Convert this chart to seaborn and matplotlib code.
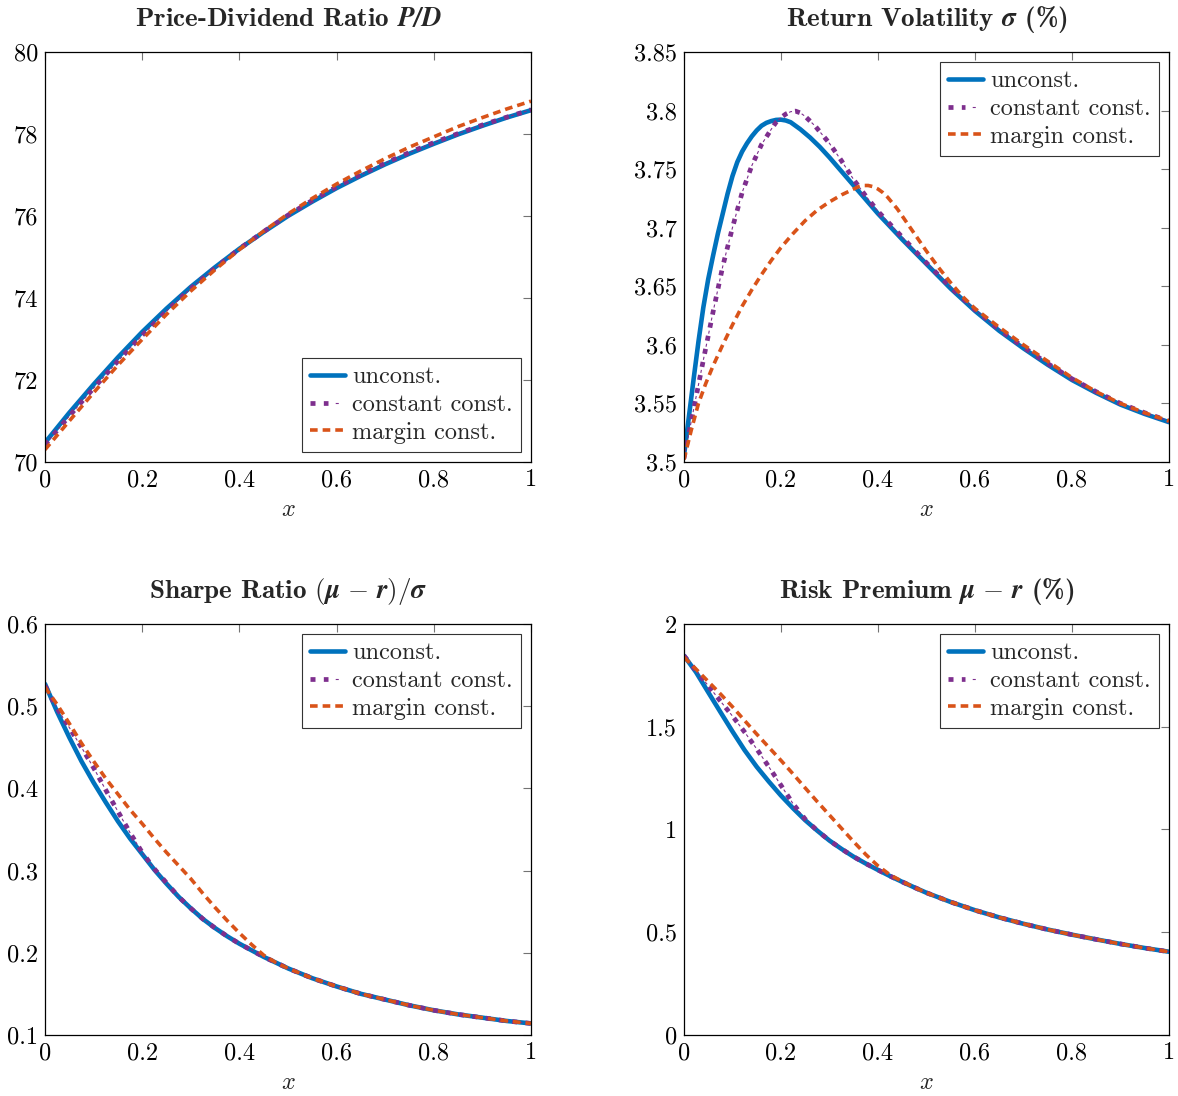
import matplotlib
matplotlib.use("Agg")
import matplotlib.pyplot as plt
import seaborn as sns
from matplotlib.lines import Line2D
from matplotlib.legend_handler import HandlerTuple
from matplotlib.ticker import FuncFormatter

# ---- data ----
# Price-Dividend ratio
pd_x = [0, 0.05, 0.1, 0.15, 0.2, 0.25, 0.3, 0.35, 0.4, 0.45, 0.5,
        0.55, 0.6, 0.65, 0.7, 0.75, 0.8, 0.85, 0.9, 0.95, 1.0]
pd_unconst = [70.47, 71.20, 71.89, 72.55, 73.17, 73.74, 74.27, 74.75, 75.20, 75.61, 76.00,
              76.35, 76.68, 76.98, 77.26, 77.52, 77.76, 77.99, 78.20, 78.40, 78.58]
pd_constant = [70.42, 71.12, 71.80, 72.46, 73.09, 73.68, 74.23, 74.73, 75.20, 75.62, 76.02,
               76.38, 76.71, 77.01, 77.29, 77.55, 77.79, 78.01, 78.22, 78.41, 78.59]
pd_margin = [70.30, 71.00, 71.69, 72.36, 72.99, 73.60, 74.17, 74.69, 75.18, 75.63, 76.05,
             76.43, 76.78, 77.10, 77.40, 77.68, 77.93, 78.18, 78.40, 78.61, 78.80]

# Return volatility (%)
vol_x_unconst = [0, 0.01, 0.02, 0.03, 0.04, 0.05, 0.06, 0.07, 0.08, 0.09, 0.1, 0.11, 0.12, 0.13, 0.14,
                 0.15, 0.16, 0.17, 0.18, 0.19, 0.2, 0.21, 0.22, 0.23, 0.24, 0.25, 0.26, 0.28, 0.3,
                 0.325, 0.35, 0.375, 0.4, 0.45, 0.5, 0.55, 0.6, 0.65, 0.7, 0.75, 0.8, 0.85, 0.9, 0.95, 1.0]
vol_unconst = [3.505, 3.538, 3.571, 3.603, 3.632, 3.656, 3.676, 3.695, 3.712, 3.729, 3.744, 3.756, 3.765, 3.772, 3.778,
               3.783, 3.787, 3.7895, 3.791, 3.792, 3.7922, 3.7915, 3.790, 3.787, 3.784, 3.7805, 3.777, 3.769, 3.760,
               3.748, 3.736, 3.724, 3.712, 3.690, 3.669, 3.648, 3.629, 3.612, 3.597, 3.583, 3.570, 3.559, 3.549, 3.541, 3.534]
vol_x_constant = [0, 0.02, 0.04, 0.06, 0.08, 0.1, 0.12, 0.14, 0.16, 0.18, 0.19, 0.2, 0.21, 0.22, 0.23, 0.24,
                  0.25, 0.26, 0.27, 0.28, 0.3, 0.325, 0.35, 0.375, 0.4, 0.45, 0.5, 0.55, 0.6, 0.65, 0.7,
                  0.75, 0.8, 0.85, 0.9, 0.95, 1.0]
vol_constant = [3.503, 3.545, 3.587, 3.628, 3.667, 3.700, 3.730, 3.753, 3.771, 3.784, 3.790, 3.794, 3.797, 3.799, 3.7995, 3.798,
                3.795, 3.791, 3.787, 3.782, 3.772, 3.757, 3.741, 3.727, 3.714, 3.692, 3.670, 3.649, 3.630, 3.613, 3.598,
                3.584, 3.571, 3.560, 3.550, 3.542, 3.535]
vol_x_margin = [0, 0.015, 0.03, 0.045, 0.06, 0.08, 0.1, 0.12, 0.14, 0.16, 0.18, 0.2, 0.225, 0.25, 0.275,
                0.3, 0.325, 0.35, 0.36, 0.37, 0.38, 0.39, 0.4, 0.41, 0.42, 0.43, 0.44, 0.45, 0.475, 0.5,
                0.525, 0.55, 0.575, 0.6, 0.65, 0.7, 0.75, 0.8, 0.85, 0.9, 0.95, 1.0]
vol_margin = [3.502, 3.527, 3.550, 3.567, 3.582, 3.600, 3.617, 3.633, 3.647, 3.660, 3.672, 3.683, 3.695, 3.706, 3.715,
              3.722, 3.728, 3.733, 3.735, 3.736, 3.736, 3.735, 3.733, 3.730, 3.726, 3.721, 3.716, 3.710, 3.695, 3.680,
              3.666, 3.653, 3.641, 3.631, 3.615, 3.600, 3.586, 3.572, 3.560, 3.550, 3.542, 3.535]

# Sharpe ratio
sr_x = [0, 0.025, 0.05, 0.075, 0.1, 0.125, 0.15, 0.175, 0.2, 0.225, 0.25, 0.275, 0.3, 0.325, 0.35,
        0.375, 0.4, 0.425, 0.45, 0.475, 0.5, 0.55, 0.6, 0.65, 0.7, 0.75, 0.8, 0.85, 0.9, 0.95, 1.0]
sr_unconst = [0.527, 0.493, 0.462, 0.433, 0.407, 0.383, 0.360, 0.339, 0.320, 0.301, 0.284, 0.268, 0.254, 0.241, 0.230,
              0.220, 0.211, 0.203, 0.195, 0.188, 0.181, 0.169, 0.159, 0.150, 0.143, 0.136, 0.130, 0.125, 0.121, 0.117, 0.114]
sr_constant = [0.525, 0.497, 0.474, 0.450, 0.425, 0.398, 0.372, 0.346, 0.322, 0.302, 0.285, 0.268, 0.254, 0.241, 0.230,
               0.220, 0.211, 0.203, 0.195, 0.188, 0.181, 0.169, 0.159, 0.150, 0.143, 0.136, 0.130, 0.125, 0.121, 0.117, 0.114]
sr_margin = [0.523, 0.502, 0.479, 0.455, 0.433, 0.412, 0.393, 0.374, 0.357, 0.339, 0.322, 0.306, 0.290, 0.272, 0.255,
             0.239, 0.224, 0.210, 0.197, 0.188, 0.181, 0.169, 0.159, 0.150, 0.143, 0.136, 0.130, 0.125, 0.121, 0.117, 0.114]

# Risk premium (%)
rp_x = [0, 0.025, 0.05, 0.075, 0.1, 0.125, 0.15, 0.175, 0.2, 0.225, 0.25, 0.275, 0.3, 0.325, 0.35,
        0.375, 0.4, 0.425, 0.45, 0.475, 0.5, 0.55, 0.6, 0.65, 0.7, 0.75, 0.8, 0.85, 0.9, 0.95, 1.0]
rp_unconst = [1.846, 1.765, 1.668, 1.572, 1.477, 1.386, 1.305, 1.233, 1.165, 1.103, 1.045, 0.994, 0.946, 0.905, 0.867,
              0.834, 0.803, 0.773, 0.745, 0.718, 0.692, 0.647, 0.607, 0.572, 0.541, 0.513, 0.488, 0.465, 0.443, 0.423, 0.405]
rp_constant = [1.846, 1.772, 1.700, 1.625, 1.552, 1.474, 1.392, 1.305, 1.215, 1.125, 1.050, 0.994, 0.946, 0.905, 0.867,
               0.834, 0.803, 0.773, 0.745, 0.718, 0.692, 0.647, 0.607, 0.572, 0.541, 0.513, 0.488, 0.465, 0.443, 0.423, 0.405]
rp_margin = [1.838, 1.780, 1.720, 1.660, 1.597, 1.530, 1.464, 1.400, 1.336, 1.270, 1.202, 1.135, 1.070, 1.005, 0.940,
             0.878, 0.823, 0.779, 0.747, 0.718, 0.692, 0.647, 0.607, 0.572, 0.541, 0.513, 0.488, 0.465, 0.443, 0.423, 0.405]

labels = ["unconst.", "constant const.", "margin const."]
colors = ["#0072BD", "#7E2F8E", "#D95319"]

# ---- style ----
sns.set_style("white")
plt.rcParams["font.family"] = ["cmr10", "DejaVu Serif"]
plt.rcParams["mathtext.fontset"] = "cm"
plt.rcParams["axes.formatter.use_mathtext"] = True
plt.rcParams["lines.scale_dashes"] = False
plt.rcParams["axes.unicode_minus"] = False

FS = 17.5
blue_kw = dict(color=colors[0], lw=3.3, linestyle="-")
purple_thick_kw = dict(color=colors[1], lw=3.4, linestyle=(0, (3.6, 6.0)))
purple_thin_kw = dict(color=colors[1], lw=0.8, linestyle=(4.4, (2.2, 7.4)))
orange_kw = dict(color=colors[2], lw=2.6, linestyle=(0, (5.5, 3.6)))


def draw(ax, xs, ys):
    (xu, yu), (xc, yc), (xm, ym) = zip(xs, ys)
    sns.lineplot(x=xu, y=yu, ax=ax, estimator=None, sort=False, legend=False, **blue_kw)
    sns.lineplot(x=xc, y=yc, ax=ax, estimator=None, sort=False, legend=False, **purple_thick_kw)
    sns.lineplot(x=xc, y=yc, ax=ax, estimator=None, sort=False, legend=False, **purple_thin_kw)
    sns.lineplot(x=xm, y=ym, ax=ax, estimator=None, sort=False, legend=False, **orange_kw)


fig = plt.figure(figsize=(11.78, 10.96), dpi=100)
positions = [
    [0.0382, 0.5785, 0.4126, 0.3741],
    [0.5806, 0.5785, 0.4117, 0.3741],
    [0.0382, 0.0557, 0.4126, 0.3750],
    [0.5806, 0.0557, 0.4117, 0.3750],
]
axes = [fig.add_axes(p) for p in positions]

panels = [
    dict(xs=[pd_x, pd_x, pd_x], ys=[pd_unconst, pd_constant, pd_margin],
         title=r"Price-Dividend Ratio $\mathbfit{P/D}$",
         ylim=(70, 80), yticks=[70, 72, 74, 76, 78, 80], loc="lower right"),
    dict(xs=[vol_x_unconst, vol_x_constant, vol_x_margin], ys=[vol_unconst, vol_constant, vol_margin],
         title=r"Return Volatility $\mathbfit{\sigma}$ (%)",
         ylim=(3.5, 3.85), yticks=[3.5, 3.55, 3.6, 3.65, 3.7, 3.75, 3.8, 3.85], loc="upper right"),
    dict(xs=[sr_x, sr_x, sr_x], ys=[sr_unconst, sr_constant, sr_margin],
         title=r"Sharpe Ratio $\mathbf{(}\mathbfit{\mu}\ \mathbf{-}\ \mathbfit{r}\mathbf{)/}\mathbfit{\sigma}$",
         ylim=(0.1, 0.6), yticks=[0.1, 0.2, 0.3, 0.4, 0.5, 0.6], loc="upper right"),
    dict(xs=[rp_x, rp_x, rp_x], ys=[rp_unconst, rp_constant, rp_margin],
         title=r"Risk Premium $\mathbfit{\mu}\ \mathbf{-}\ \mathbfit{r}$ (%)",
         ylim=(0, 2), yticks=[0, 0.5, 1, 1.5, 2], loc="upper right"),
]

fmt = FuncFormatter(lambda v, pos: "%g" % round(v, 4))

for ax, p in zip(axes, panels):
    draw(ax, p["xs"], p["ys"])
    ax.set_xlim(0, 1)
    ax.set_ylim(*p["ylim"])
    ax.set_xticks([0, 0.2, 0.4, 0.6, 0.8, 1])
    ax.set_yticks(p["yticks"])
    ax.xaxis.set_major_formatter(fmt)
    ax.yaxis.set_major_formatter(fmt)
    ax.tick_params(direction="in", top=True, right=True, length=6, width=0.8,
                   color="0.45", labelsize=FS, pad=5, labelcolor="black")
    for s in ax.spines.values():
        s.set_color("black")
        s.set_linewidth(0.9)
        s.set_visible(True)
    ax.set_xlabel("$x$", fontsize=FS, labelpad=6)
    ax.set_ylabel("")
    ax.set_title(p["title"], fontsize=19.5, family=["cmb10", "DejaVu Serif"], pad=19)

    h_u = Line2D([], [], **blue_kw)
    h_c1 = Line2D([], [], **purple_thick_kw)
    h_c2 = Line2D([], [], **purple_thin_kw)
    h_m = Line2D([], [], **orange_kw)
    leg = ax.legend([h_u, (h_c1, h_c2), h_m], labels, loc=p["loc"],
                    handler_map={tuple: HandlerTuple(ndivide=None, pad=0)},
                    fontsize=FS, frameon=True, fancybox=False, framealpha=1,
                    edgecolor="0.2", borderpad=0.32, handlelength=1.45,
                    handletextpad=0.3, labelspacing=0.24, borderaxespad=0.42)
    leg.get_frame().set_linewidth(0.8)

fig.savefig("out.png", dpi=100)
